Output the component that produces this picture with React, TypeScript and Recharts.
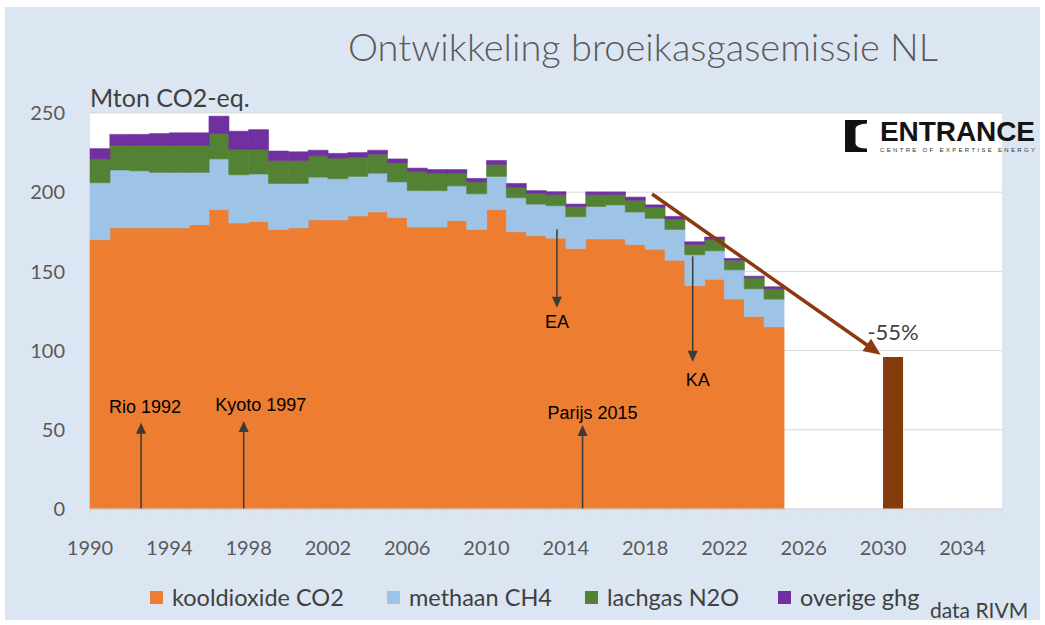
import React from 'react';
import { BarChart, Bar, XAxis, YAxis, CartesianGrid, ReferenceLine, LabelList } from 'recharts';

const years = [
  1990, 1991, 1992, 1993, 1994, 1995, 1996, 1997, 1998, 1999,
  2000, 2001, 2002, 2003, 2004, 2005, 2006, 2007, 2008, 2009,
  2010, 2011, 2012, 2013, 2014, 2015, 2016, 2017, 2018, 2019,
  2020, 2021, 2022, 2023, 2024, 2025, 2026, 2027, 2028, 2029,
  2030, 2031, 2032, 2033, 2034, 2035,
];
const co2 = [
  170, 177.5, 177.5, 177.5, 177.5, 179.5, 189, 180.5, 181.5, 176.5,
  177.5, 182.5, 182.5, 185, 187.5, 184, 178, 178, 182, 176.5,
  189, 175, 172.5, 171, 164.5, 170.5, 170.5, 167, 164, 157,
  141, 145, 132.5, 121.5, 115,
];
const ch4 = [
  36, 36.5, 36, 35, 35, 33, 32, 30.5, 30, 29,
  28, 27, 26, 25, 24.5, 22.5, 23, 23, 22, 22.5,
  21, 21.5, 20, 20.5, 20, 20.5, 21.5, 20.5, 19.5, 19.5,
  19.5, 18, 18.5, 17.5, 17.5,
];
const n2o = [
  15, 15.5, 16, 17, 17, 17, 16, 16, 15.5, 14.5,
  14.5, 13.5, 13, 12, 12, 12, 12, 11, 8, 7.5,
  7.5, 6.5, 7, 7, 6.5, 7.5, 6.5, 7.5, 7, 6.5,
  6.5, 7, 6, 7, 6.5,
];
const other = [
  6.5, 7, 7, 7.5, 8, 8, 11, 11.5, 12.5, 6,
  5.5, 3.5, 3, 3, 2.5, 2.5, 2.2, 2.3, 2.3, 2.2,
  2.5, 2.5, 1.5, 1.8, 1.5, 1.7, 1.7, 1.9, 1.5, 1.7,
  1.7, 1.7, 1.2, 1, 1.3,
];
const targetYear = 2030;
const targetValue = 96;
const targetLabel = '-55%';
const yTicks = [0, 50, 100, 150, 200, 250];
const labeledYears = [1990, 1994, 1998, 2002, 2006, 2010, 2014, 2018, 2022, 2026, 2030, 2034];

const seriesKeys = ['co2', 'ch4', 'n2o', 'other'];
const seriesNames = ['kooldioxide CO2', 'methaan CH4', 'lachgas N2O', 'overige ghg'];
const seriesColors = ['#ED7D31', '#9DC3E6', '#548235', '#7030A0'];
const legendX = [150, 387, 585, 778];

const trendStart = { year: 2018, value: 197.5 };
const trendEnd = { year: 2030, value: 92 };

const events = [
  { label: 'Rio 1992', year: 1992, from: 0, to: 54.5, dx: 1.5, lx: 4, ly: -16 },
  { label: 'Kyoto 1997', year: 1997, from: 0, to: 55.5, dx: 5, lx: 17, ly: -17 },
  { label: 'Parijs 2015', year: 2015, from: 0, to: 53, dx: -13, lx: 10, ly: -13 },
  { label: 'EA', year: 2013, from: 176.5, to: 127, dx: 1, lx: 0, ly: 14 },
  { label: 'KA', year: 2020, from: 159.5, to: 93, dx: -2, lx: 5, ly: 18 },
];

const data = years.map((year, i) => ({
  year,
  co2: co2[i] ?? null,
  ch4: ch4[i] ?? null,
  n2o: n2o[i] ?? null,
  other: other[i] ?? null,
  target: year === targetYear ? targetValue : null,
}));

const CAL = 'Lato, "Open Sans", sans-serif';
const ARIAL = '"Liberation Sans", Arial, sans-serif';

const YearTick = (props: any) => {
  const { x, y, payload } = props;
  const off = payload && typeof payload.offset === 'number' ? payload.offset : 9.9;
  const bx = x - off;
  const show = labeledYears.includes(payload.value);
  const last = payload.value === years[years.length - 1];
  return (
    <g>
      <line x1={bx} x2={bx} y1={y} y2={y + 5} stroke="#d9d9d9" />
      {last && <line x1={x + off} x2={x + off} y1={y} y2={y + 5} stroke="#d9d9d9" />}
      {show && (
        <text x={bx} y={y + 46} textAnchor="middle" fill="#595959" fontSize={20} fontFamily={CAL}>
          {payload.value}
        </text>
      )}
    </g>
  );
};

const TrendArrow = (props: any) => {
  const { x1, y1, x2, y2 } = props;
  if ([x1, y1, x2, y2].some((v) => typeof v !== 'number' || isNaN(v))) return null;
  const dxv = x2 - x1;
  const dyv = y2 - y1;
  const len = Math.sqrt(dxv * dxv + dyv * dyv);
  const ux = dxv / len;
  const uy = dyv / len;
  const sx = x1 - 3;
  const sy = y1 - (3 * dyv) / dxv;
  const tipX = x2 - ux * 15;
  const tipY = y2 - uy * 15;
  const head = 17;
  const hw = 7.5;
  const bx = tipX - ux * head;
  const by = tipY - uy * head;
  return (
    <g>
      <line x1={sx} y1={sy} x2={bx + ux * 2} y2={by + uy * 2} stroke="#8B3A0F" strokeWidth={3.5} />
      <polygon
        points={`${tipX},${tipY} ${bx - uy * hw},${by + ux * hw} ${bx + uy * hw},${by - ux * hw}`}
        fill="#8B3A0F"
      />
    </g>
  );
};

const EventArrow = (props: any) => {
  const { x1, y1, x2, y2, dx, lx, ly, label } = props;
  if ([x1, y1, x2, y2].some((v) => typeof v !== 'number' || isNaN(v))) return null;
  const ax = x1 + dx;
  const dir = y2 < y1 ? -1 : 1;
  const head = 11;
  const hw = 5;
  return (
    <g>
      <line x1={ax} y1={y1} x2={ax} y2={y2 - dir * head} stroke="#3a3a3a" strokeWidth={1.5} />
      <polygon
        points={`${ax},${y2} ${ax - hw},${y2 - dir * head} ${ax + hw},${y2 - dir * head}`}
        fill="#3a3a3a"
      />
      <text x={ax + lx} y={y2 + ly + 6.5} textAnchor="middle" fontSize={18} fontFamily={ARIAL} fill="#000">
        {label}
      </text>
    </g>
  );
};

const TargetLabel = (props: any) => {
  const { x, y, width, value } = props;
  if (value == null) return null;
  return (
    <text x={x + width / 2} y={y - 17} textAnchor="middle" fontSize={22} fontFamily={CAL} fill="#404040">
      {targetLabel}
    </text>
  );
};

export default function App() {
  return (
    <div style={{ position: 'absolute', left: 0, top: 0, width: 1045, height: 625, background: '#ffffff', overflow: 'hidden' }}>
      <div style={{ position: 'absolute', left: 5, top: 7, width: 1035, height: 613, background: '#DCE6F2' }} />
      <div style={{ position: 'absolute', left: 0, top: 0 }}>
        <BarChart
          width={1045}
          height={625}
          data={data}
          margin={{ top: 113, right: 43, bottom: 76, left: 0 }}
          barCategoryGap={0}
          barGap={0}
        >
          <CartesianGrid vertical={false} stroke="#d9d9d9" fill="#ffffff" />
          <XAxis
            dataKey="year"
            interval={0}
            tick={<YearTick />}
            tickLine={false}
            tickSize={0}
            tickMargin={0}
            height={40}
            axisLine={{ stroke: '#d9d9d9' }}
          />
          <YAxis
            domain={[0, 250]}
            ticks={yTicks}
            width={90}
            axisLine={false}
            tickLine={false}
            tickSize={0}
            tickMargin={25}
            tick={{ fill: '#595959', fontSize: 20, fontFamily: CAL }}
          />
          {seriesKeys.map((k, i) => (
            <Bar
              key={k}
              dataKey={k}
              name={seriesNames[i]}
              stackId="a"
              fill={seriesColors[i]}
              stroke={seriesColors[i]}
              strokeWidth={0.6}
              isAnimationActive={false}
            />
          ))}
          <Bar dataKey="target" stackId="a" fill="#843C0C" legendType="none" isAnimationActive={false}>
            <LabelList dataKey="target" content={<TargetLabel />} />
          </Bar>
          <ReferenceLine
            segment={[
              { x: trendStart.year, y: trendStart.value },
              { x: trendEnd.year, y: trendEnd.value },
            ]}
            ifOverflow="visible"
            shape={(p: any) => <TrendArrow {...p} />}
          />
          {events.map((e) => (
            <ReferenceLine
              key={e.label}
              segment={[
                { x: e.year, y: e.from },
                { x: e.year, y: e.to },
              ]}
              ifOverflow="visible"
              shape={(p: any) => <EventArrow {...p} dx={e.dx} lx={e.lx} ly={e.ly} label={e.label} />}
            />
          ))}
        </BarChart>
      </div>
      <svg width={1045} height={625} style={{ position: 'absolute', left: 0, top: 0, pointerEvents: 'none' }}>
        <text x={643} y={61} textAnchor="middle" fontSize={38} fontWeight={300} fontFamily={CAL} fill="#595959">
          Ontwikkeling broeikasgasemissie NL
        </text>
        <text x={90} y={107} fontSize={25} fontFamily={CAL} fill="#404040">
          Mton CO2-eq.
        </text>
        <path d="M845,120 H867 V123.5 Q857,124 855.5,128 V144 Q857,148.5 867,148.5 V152 H845 Z" fill="#111" />
        <text x={880} y={141} fontSize={28} fontWeight={700} textLength={155} lengthAdjust="spacing" fontFamily={ARIAL} fill="#141414">
          ENTRANCE
        </text>
        <text x={880} y={151.5} fontSize={6} textLength={155} lengthAdjust="spacing" fontFamily={ARIAL} fill="#333">
          CENTRE OF EXPERTISE ENERGY
        </text>
        {seriesNames.map((n, i) => (
          <g key={n}>
            <rect x={legendX[i]} y={591} width={13} height={13} fill={seriesColors[i]} />
            <text x={legendX[i] + 22} y={606} fontSize={23.5} fontFamily={CAL} fill="#404040">
              {n}
            </text>
          </g>
        ))}
        <text x={930} y={618} fontSize={21} fontFamily={CAL} fill="#404040">
          data RIVM
        </text>
      </svg>
    </div>
  );
}
